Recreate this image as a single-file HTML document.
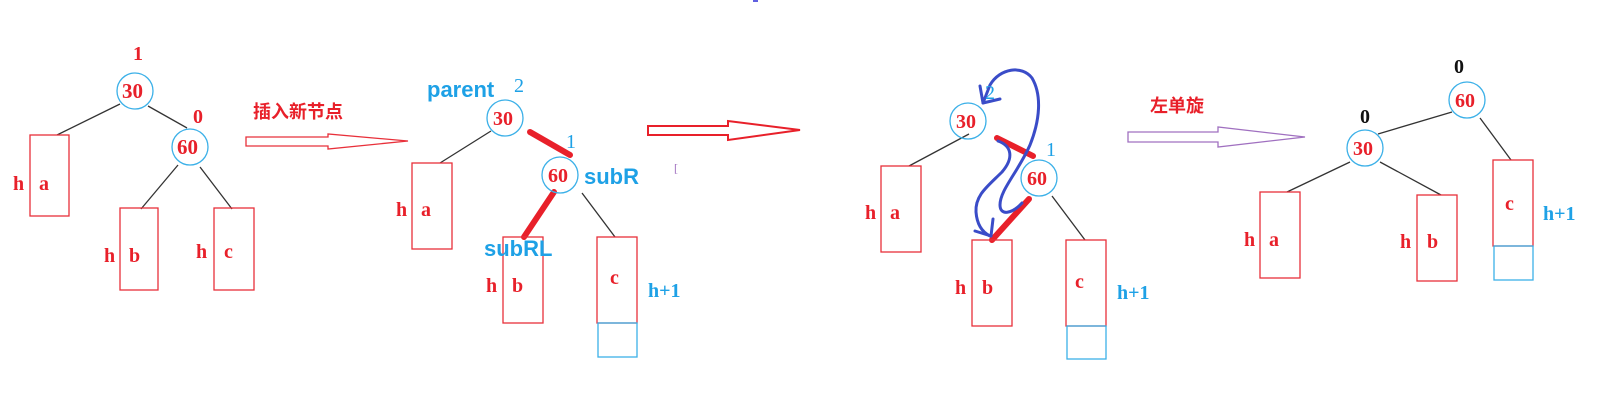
<!DOCTYPE html>
<html><head><meta charset="utf-8"><style>
html,body{margin:0;padding:0;background:#fff;}
svg{display:block;}
text{font-family:"Liberation Serif","Noto Serif CJK SC",serif;font-weight:bold;}
.r{fill:#e8202a;font-size:20px;}
.b{fill:#1ea1e6;}
.s{font-family:"Liberation Sans","Noto Sans CJK SC",sans-serif;fill:#1ea1e6;font-size:22px;font-weight:bold;}
</style></head><body>
<svg width="1597" height="406" viewBox="0 0 1597 406" xmlns="http://www.w3.org/2000/svg">
<g fill="none" stroke-width="1.3">
<g stroke="#333"><line x1="120" y1="104" x2="57" y2="135"/><line x1="148" y1="106" x2="187" y2="128"/><line x1="178" y1="165" x2="141" y2="209"/><line x1="200" y1="167" x2="232" y2="209"/></g>
<g stroke="#e8303a"><rect x="30" y="135" width="39" height="81"/><rect x="120" y="208" width="38" height="82"/><rect x="214" y="208" width="40" height="82"/></g>
<g stroke="#3bb0e8"><circle cx="135" cy="91" r="18"/><circle cx="190" cy="147" r="18"/></g>
<path d="M246 137 H328 V134 L408 141 L328 149 V146 H246 Z" stroke="#e8303a"/>
<g stroke="#333"><line x1="491" y1="131" x2="440" y2="163"/><line x1="582" y1="193" x2="615" y2="237"/></g>
<g stroke="#e8202a" stroke-width="6" stroke-linecap="round"><line x1="530" y1="132" x2="570" y2="155"/><line x1="554" y1="192" x2="524" y2="237"/></g>
<g stroke="#e8303a"><rect x="412" y="163" width="40" height="86"/><rect x="503" y="237" width="40" height="86"/><rect x="597" y="237" width="40" height="86"/></g>
<rect x="598" y="323" width="39" height="34" stroke="#3bb0e8"/>
<g stroke="#3bb0e8"><circle cx="505" cy="118" r="18"/><circle cx="560" cy="175" r="18"/></g>
<path d="M648 126 H728 V121 L800 130 L728 140 V135 H648 Z" stroke="#e8202a" stroke-width="2"/>
<g stroke="#333"><line x1="969" y1="134" x2="909" y2="166"/><line x1="1052" y1="196" x2="1085" y2="240"/></g>
<g stroke="#e8202a" stroke-width="6" stroke-linecap="round"><line x1="997" y1="138" x2="1033" y2="156"/><line x1="1029" y1="199" x2="992" y2="240"/></g>
<g stroke="#e8303a"><rect x="881" y="166" width="40" height="86"/><rect x="972" y="240" width="40" height="86"/><rect x="1066" y="240" width="40" height="86"/></g>
<rect x="1067" y="326" width="39" height="33" stroke="#3bb0e8"/>
<g stroke="#3bb0e8"><circle cx="968" cy="121" r="18"/><circle cx="1039" cy="178" r="18"/></g>
<g stroke="#3a4cc8" stroke-width="3" stroke-linecap="round" stroke-linejoin="round">
<path d="M1022 203 C1012 214 1000 216 1000 205 C1000 190 1018 172 1030 145 C1040 120 1042 95 1032 78 C1022 65 1000 68 990 85 L983 103"/>
<path d="M980 86 L983 103 L1000 99"/>
<path d="M998 141 C1012 146 1014 158 1002 172 C988 186 975 195 976 212 C977 225 982 232 990 236"/>
<path d="M975 231 L991 236 L993 219"/>
</g>
<path d="M1128 132 H1218 V127 L1305 137 L1218 147 V142 H1128 Z" stroke="#a070c0"/>
<g stroke="#333"><line x1="1452" y1="112" x2="1378" y2="134"/><line x1="1480" y1="118" x2="1511" y2="160"/><line x1="1350" y1="162" x2="1287" y2="192"/><line x1="1380" y1="162" x2="1441" y2="195"/></g>
<g stroke="#e8303a"><rect x="1260" y="192" width="40" height="86"/><rect x="1417" y="195" width="40" height="86"/><rect x="1493" y="160" width="40" height="86"/></g>
<rect x="1494" y="246" width="39" height="34" stroke="#3bb0e8"/>
<g stroke="#3bb0e8"><circle cx="1467" cy="100" r="18"/><circle cx="1365" cy="148" r="18"/></g>
</g>
<rect x="753" y="0" width="5" height="2" fill="#6060e0"/>
<text x="674" y="172" style="font-size:12px;fill:#a070c0;font-weight:normal">[</text>
<g class="r">
<text x="133" y="60">1</text><text x="122" y="98" style="font-size:21px">30</text>
<text x="193" y="123">0</text><text x="177" y="154" style="font-size:21px">60</text>
<text x="13" y="190">h</text><text x="39" y="190">a</text>
<text x="104" y="262">h</text><text x="129" y="262">b</text>
<text x="196" y="258">h</text><text x="224" y="258">c</text>
<text x="253" y="118" style="font-size:18px;font-family:'Noto Sans CJK SC',sans-serif">插入新节点</text>
<text x="493" y="125">30</text><text x="548" y="182">60</text>
<text x="396" y="216">h</text><text x="421" y="216">a</text>
<text x="486" y="292">h</text><text x="512" y="292">b</text>
<text x="610" y="284">c</text>
<text x="956" y="128">30</text><text x="1027" y="185">60</text>
<text x="865" y="219">h</text><text x="890" y="219">a</text>
<text x="955" y="294">h</text><text x="982" y="294">b</text>
<text x="1075" y="288">c</text>
<text x="1150" y="112" style="font-size:18px;font-family:'Noto Sans CJK SC',sans-serif">左单旋</text>
<text x="1455" y="107">60</text><text x="1353" y="155">30</text>
<text x="1244" y="246">h</text><text x="1269" y="246">a</text>
<text x="1400" y="248">h</text><text x="1427" y="248">b</text>
<text x="1505" y="210">c</text>
</g>
<text x="427" y="97" class="s">parent</text>
<text x="484" y="256" class="s">subRL</text>
<text x="584" y="184" class="s">subR</text>
<g class="b" style="font-size:20px;">
<text x="514" y="92" style="font-weight:normal">2</text>
<text x="566" y="148" style="font-weight:normal">1</text>
<text x="648" y="297">h+1</text>
<text x="985" y="99" style="font-weight:normal">2</text>
<text x="1046" y="156" style="font-weight:normal">1</text>
<text x="1117" y="299">h+1</text>
<text x="1543" y="220">h+1</text>
</g>
<g style="font-size:20px;fill:#111">
<text x="1454" y="73">0</text><text x="1360" y="123">0</text>
</g>
</svg>
</body></html>
